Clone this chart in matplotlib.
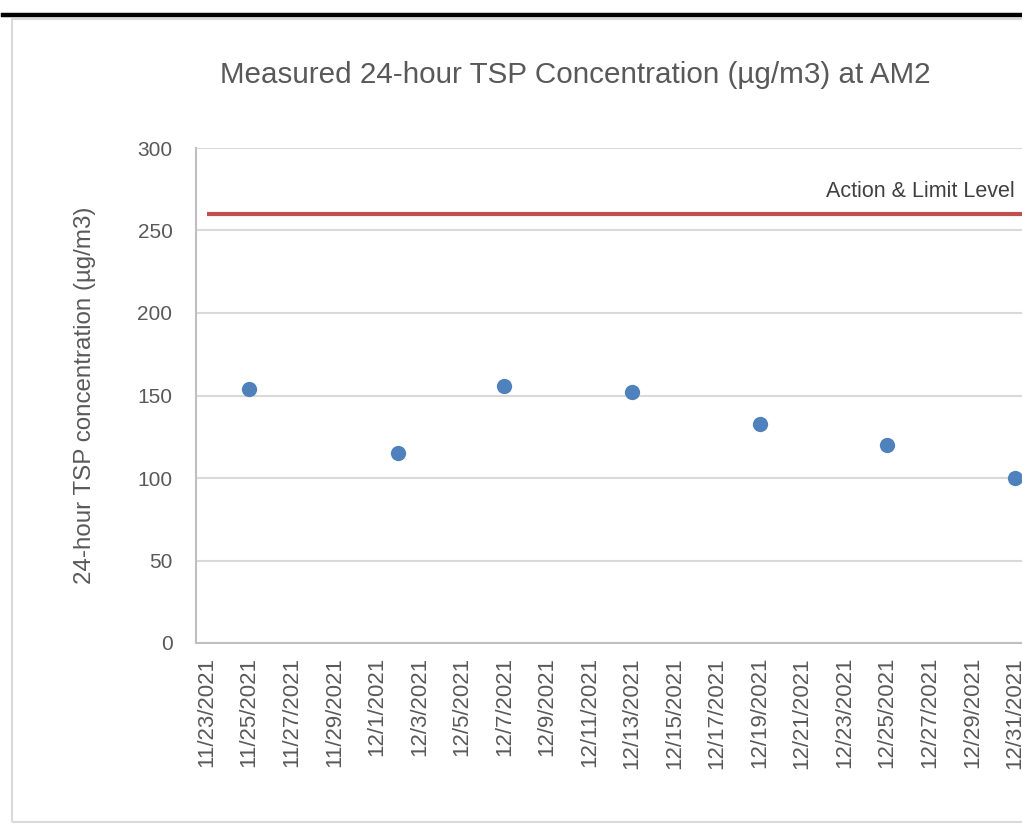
import numpy as np
import pandas as pd
import matplotlib
matplotlib.use("Agg")
import matplotlib.pyplot as plt
from matplotlib.patches import Rectangle
from matplotlib.lines import Line2D

# measured 24-hour TSP at AM2
dates = pd.to_datetime(["2021-11-25", "2021-12-02", "2021-12-07", "2021-12-13",
                        "2021-12-19", "2021-12-25", "2021-12-31"])
tsp = [154, 115, 156, 152, 133, 120, 100]
limit_level = 260
limit_label = "Action & Limit Level"
tick_dates = pd.date_range("2021-11-23", "2021-12-31", freq="2D")
tick_labels = [f"{d.month}/{d.day}/{d.year}" for d in tick_dates]
y_ticks = [0, 50, 100, 150, 200, 250, 300]

txt = "#595959"
plt.rcParams['font.family'] = ['Liberation Sans', 'DejaVu Sans']

fig = plt.figure(figsize=(10.22, 8.25), dpi=100)
W, H = 1022, 825

# outer chart frame and the black rule on top
fig.add_artist(Rectangle((12 / W, 3 / H), 1.2, 803 / H, transform=fig.transFigure,
                         fill=False, edgecolor="#d9d9d9", lw=1.5))
fig.add_artist(Line2D([3 / W, 1.0], [1 - 15 / H, 1 - 15 / H], transform=fig.transFigure,
                      color="black", lw=3.2))

ax = fig.add_axes([196 / W, 182 / H, 829.5 / W, 495 / H])

x0 = tick_dates[0] - pd.Timedelta(hours=12)
x1 = tick_dates[-1] + pd.Timedelta(hours=12)
ax.set_xlim(x0, x1)
ax.set_ylim(0, 300)

ax.plot([tick_dates[0], x1], [limit_level, limit_level], color="#c0504d", lw=3, solid_capstyle="butt")
ax.plot(dates, tsp, "o", color="#4f81bd", markersize=11, markeredgewidth=0, zorder=3, clip_on=False)
ax.annotate(limit_label, (dates[-1], limit_level), xytext=(0, 16), textcoords="offset points",
            ha="right", va="center", color="#404040", fontsize=15.5)

ax.set_yticks(y_ticks)
ax.set_yticklabels([str(v) for v in y_ticks], fontsize=15, color=txt)
ax.set_xticks(tick_dates)
ax.set_xticklabels(tick_labels, rotation=90, fontsize=16, color=txt)
ax.tick_params(length=0)
ax.tick_params(axis="y", pad=17)
ax.tick_params(axis="x", pad=10)
ax.grid(axis="y", color="#d9d9d9", lw=1.5)
ax.set_axisbelow(True)
for s in ["top", "right"]:
    ax.spines[s].set_visible(False)
for s in ["left", "bottom"]:
    ax.spines[s].set_color("#bfbfbf")
    ax.spines[s].set_linewidth(1.5)

fig.text(85 / W, 1 - 395 / H, "24-hour TSP concentration (µg/m3)", rotation=90,
         ha="center", va="center", fontsize=17.4, color=txt)
fig.text(575 / W, 1 - 75 / H, "Measured 24-hour TSP Concentration (µg/m3) at AM2",
         ha="center", va="center", fontsize=21.3, color=txt)

fig.savefig("out.png", dpi=100)
